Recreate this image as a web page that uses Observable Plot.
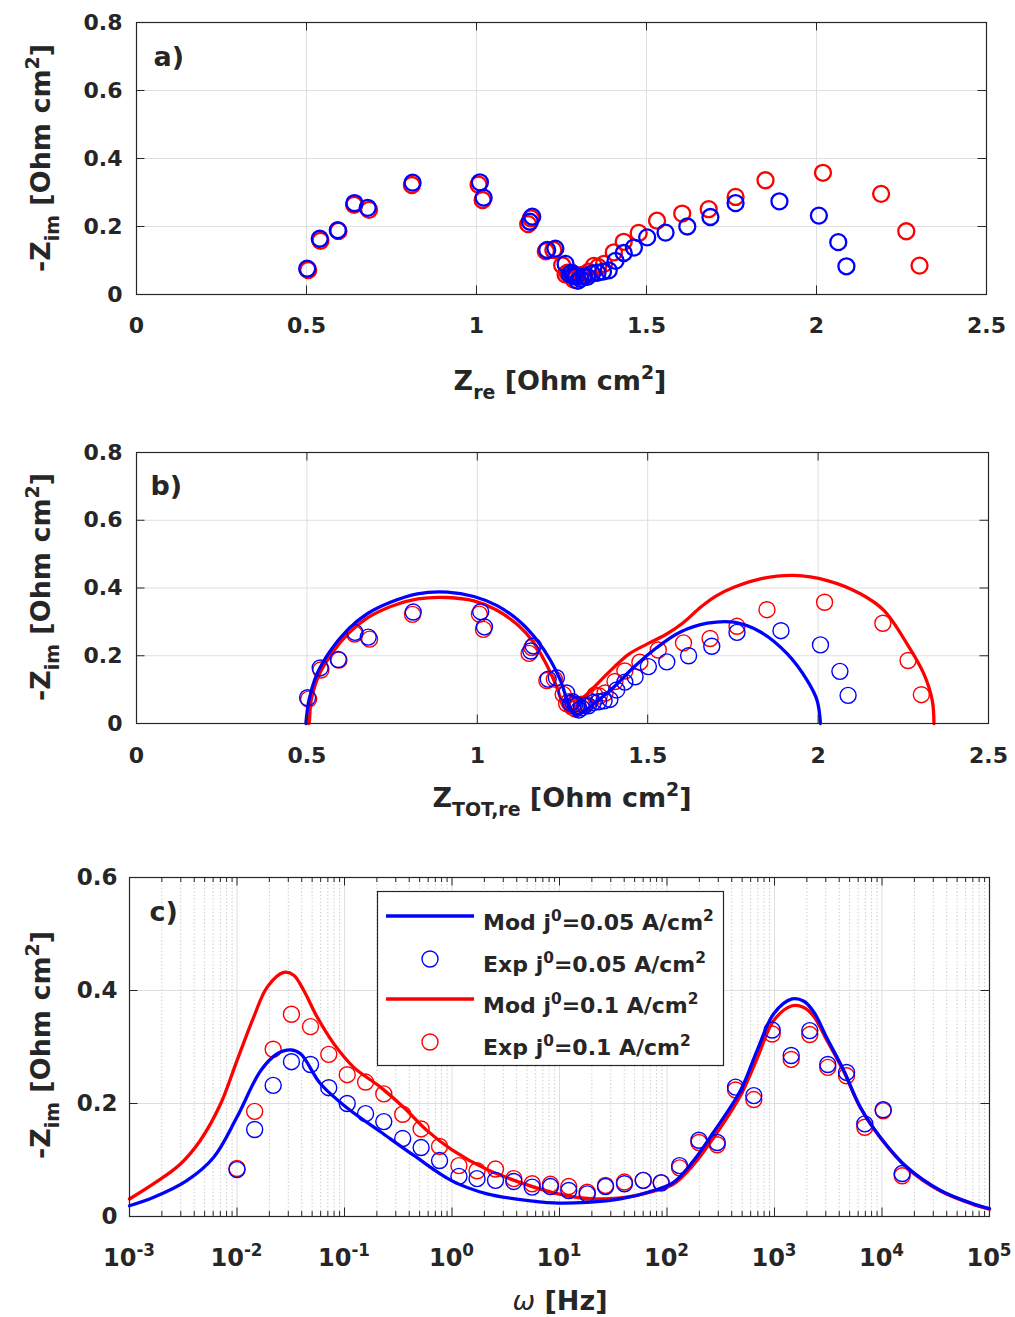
<!DOCTYPE html>
<html><head><meta charset="utf-8">
<script src="https://cdn.jsdelivr.net/npm/d3@7"></script>
<script src="https://cdn.jsdelivr.net/npm/@observablehq/plot@0.6"></script>
<style>
body{margin:0;background:#fff;}
#chart{width:1015px;}
#chart svg{display:block;}
</style></head><body><div id="chart"></div>
<script>
// ---------- Experimental data (shared frequencies, Hz) ----------
const expFreq = [0.01, 0.0146, 0.0217, 0.0321, 0.0483, 0.0714, 0.106, 0.157, 0.232, 0.348, 0.516, 0.766, 1.16, 1.71, 2.54, 3.76, 5.57, 8.24, 12.2, 18.1, 26.8, 40.2, 60.1, 88.3, 131, 198, 293, 434, 642, 952, 1430, 2130, 3130, 4680, 6920, 10260, 15400];
// j0 = 0.05 A/cm2 (blue)
const expZreBlue = [2.088, 2.064, 2.007, 1.891, 1.762, 1.688, 1.620, 1.556, 1.502, 1.463, 1.433, 1.409, 1.389, 1.372, 1.356, 1.340, 1.326, 1.316, 1.306, 1.298, 1.292, 1.286, 1.280, 1.274, 1.262, 1.232, 1.208, 1.164, 1.157, 1.010, 1.021, 0.812, 0.641, 0.680, 0.539, 0.592, 0.502];
const expZimBlue = [0.083, 0.154, 0.232, 0.274, 0.269, 0.228, 0.200, 0.182, 0.168, 0.138, 0.122, 0.099, 0.071, 0.067, 0.064, 0.062, 0.052, 0.053, 0.046, 0.040, 0.053, 0.058, 0.064, 0.060, 0.090, 0.135, 0.131, 0.229, 0.214, 0.330, 0.285, 0.329, 0.269, 0.255, 0.164, 0.189, 0.076];
// j0 = 0.1 A/cm2 (red)
const expZreRed = [2.303, 2.264, 2.190, 2.019, 1.850, 1.762, 1.683, 1.605, 1.531, 1.477, 1.433, 1.404, 1.375, 1.358, 1.345, 1.330, 1.318, 1.306, 1.296, 1.287, 1.281, 1.275, 1.268, 1.262, 1.252, 1.226, 1.204, 1.160, 1.152, 1.006, 1.018, 0.810, 0.640, 0.684, 0.541, 0.594, 0.505];
const expZimRed = [0.085, 0.186, 0.296, 0.358, 0.336, 0.287, 0.251, 0.238, 0.217, 0.181, 0.155, 0.124, 0.090, 0.081, 0.084, 0.067, 0.058, 0.057, 0.053, 0.043, 0.055, 0.061, 0.064, 0.059, 0.086, 0.131, 0.127, 0.224, 0.207, 0.323, 0.278, 0.322, 0.264, 0.249, 0.158, 0.187, 0.072];

// ---------- Model, Nyquist (panel b) ----------
const modNyqZreBlue = [0.497, 0.506, 0.530, 0.569, 0.618, 0.677, 0.745, 0.824, 0.912, 0.990, 1.058, 1.127, 1.176, 1.215, 1.244, 1.264, 1.280, 1.292, 1.305, 1.342, 1.400, 1.459, 1.528, 1.596, 1.675, 1.753, 1.831, 1.909, 1.968, 1.997, 2.007];
const modNyqZimBlue = [0, 0.068, 0.147, 0.215, 0.275, 0.324, 0.358, 0.383, 0.388, 0.375, 0.348, 0.299, 0.245, 0.186, 0.127, 0.068, 0.032, 0.024, 0.030, 0.058, 0.107, 0.166, 0.225, 0.270, 0.296, 0.299, 0.270, 0.206, 0.127, 0.068, 0];
const modNyqZreRed = [0.505, 0.507, 0.512, 0.535, 0.574, 0.622, 0.680, 0.748, 0.826, 0.912, 0.990, 1.055, 1.120, 1.165, 1.200, 1.228, 1.250, 1.262, 1.272, 1.285, 1.310, 1.352, 1.400, 1.445, 1.499, 1.557, 1.606, 1.655, 1.700, 1.753, 1.831, 1.929, 2.027, 2.124, 2.193, 2.261, 2.310, 2.335, 2.340];
const modNyqZimRed = [0, 0.005, 0.065, 0.142, 0.208, 0.266, 0.313, 0.346, 0.368, 0.372, 0.362, 0.336, 0.290, 0.240, 0.180, 0.120, 0.060, 0.035, 0.030, 0.040, 0.072, 0.117, 0.165, 0.205, 0.235, 0.265, 0.299, 0.343, 0.376, 0.402, 0.427, 0.437, 0.422, 0.383, 0.334, 0.235, 0.147, 0.068, 0];

// ---------- Model, Bode (panel c) ----------
const modBodeFreqBlue = [0.001, 0.00168, 0.00344, 0.00608, 0.01, 0.0166, 0.0237, 0.0315, 0.039, 0.0598, 0.106, 0.216, 0.442, 1.0, 2.12, 4.34, 8.85, 18.1, 36.9, 75.3, 116, 177, 273, 483, 690, 984, 1460, 1875, 2320, 3090, 4420, 6310, 9680, 17140, 35000, 71450, 100000];
const modBodeZimBlue = [0.019, 0.034, 0.064, 0.105, 0.176, 0.258, 0.288, 0.295, 0.288, 0.235, 0.192, 0.150, 0.108, 0.063, 0.040, 0.030, 0.024, 0.025, 0.031, 0.046, 0.061, 0.099, 0.150, 0.223, 0.294, 0.359, 0.385, 0.381, 0.362, 0.315, 0.258, 0.193, 0.140, 0.087, 0.046, 0.022, 0.014];
const modBodeFreqRed = [0.001, 0.00168, 0.00298, 0.00457, 0.00703, 0.01, 0.0143, 0.0191, 0.0272, 0.0337, 0.0418, 0.0557, 0.0794, 0.122, 0.216, 0.356, 0.587, 1.0, 2.12, 4.34, 8.85, 18.1, 36.9, 75.3, 116, 177, 273, 483, 690, 984, 1460, 1875, 2320, 3090, 4420, 6310, 9680, 17140, 35000, 71450, 100000];
const modBodeZimRed = [0.031, 0.058, 0.093, 0.135, 0.199, 0.276, 0.353, 0.406, 0.432, 0.427, 0.400, 0.353, 0.306, 0.264, 0.229, 0.193, 0.152, 0.118, 0.083, 0.060, 0.042, 0.032, 0.033, 0.045, 0.058, 0.092, 0.140, 0.214, 0.280, 0.347, 0.373, 0.370, 0.354, 0.311, 0.256, 0.192, 0.139, 0.086, 0.045, 0.021, 0.013];

// ---------- Ticks / labels ----------
const nyqXTicks = [0, 0.5, 1, 1.5, 2, 2.5];
const nyqYTicks = [0, 0.2, 0.4, 0.6, 0.8];
const bodeXTicks = [1e-3, 1e-2, 1e-1, 1e0, 1e1, 1e2, 1e3, 1e4, 1e5];
const bodeXExp = ["-3", "-2", "-1", "0", "1", "2", "3", "4", "5"];
const bodeYTicks = [0, 0.2, 0.4, 0.6];
const legendLabels = [
  [{t:"Mod j"},{t:"0",sup:true},{t:"=0.05 A/cm"},{t:"2",sup:true}],
  [{t:"Exp j"},{t:"0",sup:true},{t:"=0.05 A/cm"},{t:"2",sup:true}],
  [{t:"Mod j"},{t:"0",sup:true},{t:"=0.1 A/cm"},{t:"2",sup:true}],
  [{t:"Exp j"},{t:"0",sup:true},{t:"=0.1 A/cm"},{t:"2",sup:true}]
];

const FONT = "DejaVu Sans";
const TXT = "#262626";
const BLUE = "#0000ff", RED = "#ff0000";
const GRID = "#dfdfdf";
const CURVE = "catmull-rom";

const pairs = (xs, ys) => xs.map((x, i) => ({x, y: ys[i]}));
const fmt = d => String(d);

const expBlueNyq = pairs(expZreBlue, expZimBlue);
const expRedNyq = pairs(expZreRed, expZimRed);
const expBlueBode = pairs(expFreq, expZimBlue);
const expRedBode = pairs(expFreq, expZimRed);
const modBlueNyq = pairs(modNyqZreBlue, modNyqZimBlue);
const modRedNyq = pairs(modNyqZreRed, modNyqZimRed);
const modBlueBode = pairs(modBodeFreqBlue, modBodeZimBlue);
const modRedBode = pairs(modBodeFreqRed, modBodeZimRed);

function richText(parent, x, y, parts, F, opts = {}) {
  const t = parent.append("text")
    .attr("x", x).attr("y", y)
    .attr("fill", TXT)
    .attr("font-family", FONT)
    .attr("font-weight", opts.weight || "bold")
    .attr("font-size", F)
    .attr("text-anchor", opts.anchor || "middle")
    .style("white-space", "pre");
  if (opts.transform) t.attr("transform", opts.transform);
  let cur = 0;
  for (const p of parts) {
    const s = p.sub ? 0.32 * F : p.sup ? -0.42 * F : 0;
    const ts = t.append("tspan").attr("dy", s - cur).text(p.t)
      .attr("font-size", (p.sub || p.sup) ? 0.7 * F : F);
    if (p.italic) ts.attr("font-style", "italic");
    if (p.weight) ts.attr("font-weight", p.weight);
    cur = s;
  }
  return t;
}

function inward(xt, yt, fw, fh, len, xMinor, minorLen) {
  const m = [
    Plot.ruleX(xt, {x: d => d, insetTop: fh - len, stroke: TXT, strokeWidth: 1}),
    Plot.ruleX(xt, {x: d => d, insetBottom: fh - len, stroke: TXT, strokeWidth: 1}),
    Plot.ruleY(yt, {y: d => d, insetRight: fw - len, stroke: TXT, strokeWidth: 1}),
    Plot.ruleY(yt, {y: d => d, insetLeft: fw - len, stroke: TXT, strokeWidth: 1})
  ];
  if (xMinor) {
    m.push(Plot.ruleX(xMinor, {x: d => d, insetTop: fh - minorLen, stroke: TXT, strokeWidth: 1}));
    m.push(Plot.ruleX(xMinor, {x: d => d, insetBottom: fh - minorLen, stroke: TXT, strokeWidth: 1}));
  }
  return m;
}

const baseStyle = {fontFamily: FONT, fontSize: "22px", fontWeight: "bold", color: TXT, background: "white", overflow: "visible"};
const chart = document.getElementById("chart");

// ---------- Panel a ----------
{
  const W = 1015, H = 410, ml = 136, mr = 29, mt = 22, mb = 116;
  const fw = W - ml - mr, fh = H - mt - mb;
  const svg = Plot.plot({
    width: W, height: H, marginLeft: ml, marginRight: mr, marginTop: mt, marginBottom: mb,
    style: baseStyle,
    x: {domain: [0, 2.5]}, y: {domain: [0, 0.8]},
    marks: [
      Plot.gridX(nyqXTicks, {stroke: GRID, strokeOpacity: 1}),
      Plot.gridY(nyqYTicks, {stroke: GRID, strokeOpacity: 1}),
      Plot.dot(expRedNyq, {x: "x", y: "y", r: 8, stroke: RED, strokeWidth: 2.3}),
      Plot.dot(expBlueNyq, {x: "x", y: "y", r: 8, stroke: BLUE, strokeWidth: 2.3}),
      Plot.frame({stroke: TXT, strokeWidth: 1.2}),
      ...inward(nyqXTicks, nyqYTicks, fw, fh, 8.5),
      Plot.axisX(nyqXTicks, {tickSize: 0, tickPadding: 23, tickFormat: fmt, label: null, fontSize: 22}),
      Plot.axisY(nyqYTicks, {tickSize: 0, tickPadding: 14, tickFormat: fmt, label: null, fontSize: 22}),
      Plot.text(["a)"], {frameAnchor: "top-left", dx: 17, dy: 24, lineAnchor: "top", textAnchor: "start", fontSize: 27, fontWeight: "bold", fill: TXT})
    ]
  });
  const g = d3.select(svg);
  richText(g, 0, 0, [{t:"-Z"},{t:"im",sub:true},{t:" [Ohm cm"},{t:"2",sup:true},{t:"]"}], 27, {transform: "translate(50,158) rotate(-90)"});
  richText(g, 560, 390, [{t:"Z"},{t:"re",sub:true},{t:" [Ohm cm"},{t:"2",sup:true},{t:"]"}], 27);
  chart.append(svg);
}

// ---------- Panel b ----------
{
  const W = 1015, H = 430, ml = 136, mr = 27, mt = 42, mb = 117;
  const fw = W - ml - mr, fh = H - mt - mb;
  const svg = Plot.plot({
    width: W, height: H, marginLeft: ml, marginRight: mr, marginTop: mt, marginBottom: mb,
    style: baseStyle,
    x: {domain: [0, 2.5]}, y: {domain: [0, 0.8]},
    marks: [
      Plot.gridX(nyqXTicks, {stroke: GRID, strokeOpacity: 1}),
      Plot.gridY(nyqYTicks, {stroke: GRID, strokeOpacity: 1}),
      Plot.line(modRedNyq, {x: "x", y: "y", stroke: RED, strokeWidth: 3.3, curve: CURVE}),
      Plot.dot(expRedNyq, {x: "x", y: "y", r: 8, stroke: RED, strokeWidth: 1.4}),
      Plot.line(modBlueNyq, {x: "x", y: "y", stroke: BLUE, strokeWidth: 3.3, curve: CURVE}),
      Plot.dot(expBlueNyq, {x: "x", y: "y", r: 8, stroke: BLUE, strokeWidth: 1.4}),
      Plot.frame({stroke: TXT, strokeWidth: 1.2}),
      ...inward(nyqXTicks, nyqYTicks, fw, fh, 8.5),
      Plot.axisX(nyqXTicks, {tickSize: 0, tickPadding: 24, tickFormat: fmt, label: null, fontSize: 22}),
      Plot.axisY(nyqYTicks, {tickSize: 0, tickPadding: 14, tickFormat: fmt, label: null, fontSize: 22}),
      Plot.text(["b)"], {frameAnchor: "top-left", dx: 14, dy: 23, lineAnchor: "top", textAnchor: "start", fontSize: 27, fontWeight: "bold", fill: TXT})
    ]
  });
  const g = d3.select(svg);
  richText(g, 0, 0, [{t:"-Z"},{t:"im",sub:true},{t:" [Ohm cm"},{t:"2",sup:true},{t:"]"}], 27, {transform: "translate(50,177) rotate(-90)"});
  richText(g, 562, 397, [{t:"Z"},{t:"TOT,re",sub:true},{t:" [Ohm cm"},{t:"2",sup:true},{t:"]"}], 27);
  chart.append(svg);
}

// ---------- Panel c ----------
{
  const W = 1015, H = 477, ml = 129, mr = 26, mt = 37, mb = 101;
  const fw = W - ml - mr, fh = H - mt - mb;
  const minor = [];
  for (let k = -3; k < 5; k++) for (let m = 2; m <= 9; m++) minor.push(m * Math.pow(10, k));
  const svg = Plot.plot({
    width: W, height: H, marginLeft: ml, marginRight: mr, marginTop: mt, marginBottom: mb,
    style: baseStyle,
    x: {type: "log", domain: [1e-3, 1e5], axis: null}, y: {domain: [0, 0.6]},
    marks: [
      Plot.gridX(minor, {stroke: "#cfcfcf", strokeOpacity: 1, strokeDasharray: "1.5,2"}),
      Plot.gridX(bodeXTicks, {stroke: GRID, strokeOpacity: 1}),
      Plot.gridY(bodeYTicks, {stroke: GRID, strokeOpacity: 1}),
      Plot.line(modRedBode, {x: "x", y: "y", stroke: RED, strokeWidth: 3.3, curve: CURVE}),
      Plot.dot(expRedBode, {x: "x", y: "y", r: 8, stroke: RED, strokeWidth: 1.4}),
      Plot.line(modBlueBode, {x: "x", y: "y", stroke: BLUE, strokeWidth: 3.3, curve: CURVE}),
      Plot.dot(expBlueBode, {x: "x", y: "y", r: 8, stroke: BLUE, strokeWidth: 1.4}),
      Plot.frame({stroke: TXT, strokeWidth: 1.2}),
      ...inward(bodeXTicks, bodeYTicks, fw, fh, 8.5, minor, 5),
      Plot.axisY(bodeYTicks, {tickSize: 0, tickPadding: 12, tickFormat: fmt, label: null, fontSize: 23}),
      Plot.text(["c)"], {frameAnchor: "top-left", dx: 20, dy: 24, lineAnchor: "top", textAnchor: "start", fontSize: 27, fontWeight: "bold", fill: TXT})
    ]
  });
  const g = d3.select(svg);
  const xs = svg.scale("x");
  bodeXTicks.forEach((v, i) => {
    richText(g, xs.apply(v), 426, [{t:"10"},{t:bodeXExp[i],sup:true}], 24);
  });
  richText(g, 0, 0, [{t:"-Z"},{t:"im",sub:true},{t:" [Ohm cm"},{t:"2",sup:true},{t:"]"}], 27, {transform: "translate(50,205) rotate(-90)"});
  richText(g, 560, 470, [{t:"\u03C9", italic:true, weight:"normal"},{t:" [Hz]"}], 27);

  // legend
  const lg = g.append("g");
  lg.append("rect").attr("x", 377.5).attr("y", 51.5).attr("width", 346).attr("height", 174)
    .attr("fill", "white").attr("stroke", TXT).attr("stroke-width", 1.2);
  const rows = [
    {kind: "line", color: BLUE, y: 76, base: 90},
    {kind: "dot", color: BLUE, y: 119, base: 132},
    {kind: "line", color: RED, y: 159, base: 173},
    {kind: "dot", color: RED, y: 202, base: 215}
  ];
  rows.forEach((r, i) => {
    if (r.kind === "line") {
      lg.append("line").attr("x1", 386).attr("x2", 474).attr("y1", r.y).attr("y2", r.y)
        .attr("stroke", r.color).attr("stroke-width", 3.3);
    } else {
      lg.append("circle").attr("cx", 430).attr("cy", r.y).attr("r", 8)
        .attr("fill", "none").attr("stroke", r.color).attr("stroke-width", 1.4);
    }
    richText(lg, 483, r.base, legendLabels[i], 22, {anchor: "start"});
  });
  chart.append(svg);
}
</script></body></html>
